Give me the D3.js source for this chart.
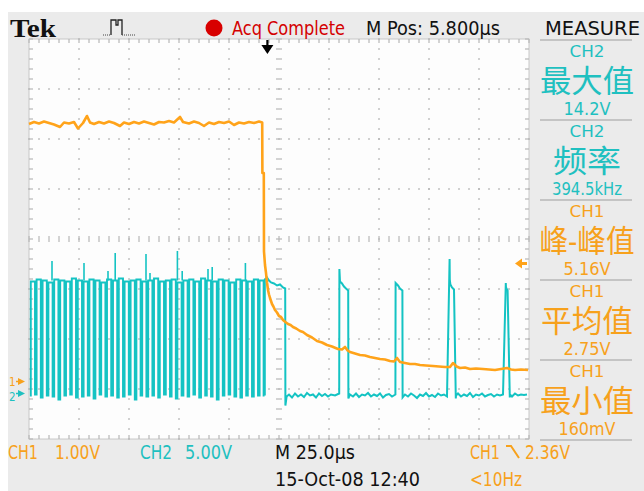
<!DOCTYPE html>
<html><head><meta charset="utf-8">
<script src="https://cdn.jsdelivr.net/npm/d3@7"></script>
<style>html,body{margin:0;padding:0;background:#fff;overflow:hidden}svg{display:block}</style>
</head><body><svg id="c" width="644" height="491"></svg>
<script>
// ---------------- DATA ----------------
const timeDomain = [0, 250];          // µs across screen (25 µs/div, 10 div)
const divDomain = [-4, 4];            // vertical divisions
const ch1VoltsPerDiv = 1.0;
const ch2VoltsPerDiv = 5.0;
const ch1OffsetDiv = -2.85;
const ch2OffsetDiv = -3.09;
const triggerTime = 119.2;            // µs  (M Pos 5.800 µs)
const triggerLevel = 2.36;            // V on CH1

// CH1 (orange) trace
const ch1Time = [0,2.5,5,7.5,10,12.5,15.5,17.5,20,22.5,24.5,27,29,30.5,32.5,35,37.5,40,42.5,45.5,47.5,50,52.5,55,57.5,60,62.5,65,67.5,70,72.5,75.5,77,80,82.5,85,87.5,90,92.5,95,97.5,100,102.5,105,107.5,110,112.5,115,116.6,
  116.7,117.4,117.5,118.0,118.5,119.0,119.5,120.0,120.5,121.5,122.2,123,124,125,126,127,128.2,129.5,130.8,132,133.6,135.5,137,139,141.5,144,146.5,149,151.5,154.5,156.5,158,159.3,160.5,163,165.5,168,170.5,173,175.5,178,180.5,182.5,184,185.5,188,190.5,193,195.5,198.5,202,205,208,210.5,212,213.8,215.5,218,220.5,223.5,227,230,233,236,239,241,243,246,249.5];
const ch1Volt = [5.15,5.19,5.16,5.20,5.17,5.14,5.09,5.18,5.16,5.19,5.06,5.17,5.31,5.18,5.15,5.19,5.16,5.20,5.17,5.11,5.18,5.15,5.19,5.16,5.20,5.17,5.14,5.19,5.18,5.21,5.18,5.29,5.19,5.16,5.20,5.17,5.11,5.18,5.15,5.19,5.17,5.20,5.13,5.18,5.16,5.19,5.17,5.20,5.18,
  4.17,4.17,2.60,2.33,2.17,1.98,1.83,1.74,1.67,1.55,1.50,1.43,1.38,1.31,1.29,1.23,1.19,1.15,1.13,1.09,1.06,1.01,0.99,0.93,0.88,0.81,0.78,0.73,0.70,0.65,0.64,0.69,0.62,0.59,0.56,0.53,0.52,0.49,0.47,0.45,0.44,0.41,0.40,0.47,0.39,0.37,0.35,0.35,0.33,0.32,0.31,0.30,0.29,0.29,0.37,0.30,0.27,0.28,0.25,0.26,0.25,0.24,0.23,0.25,0.27,0.24,0.23,0.24,0.23];

// CH2 (cyan) burst: rising / falling edge times, high and low levels
const trainRise = [0.9,3.8,6.8,9.7,12.6,15.6,18.5,21.4,24.4,27.3,30.2,33.2,36.1,39.0,42.0,44.9,47.8,50.8,53.7,56.6,59.6,62.5,65.4,68.4,71.3,74.2,77.2,80.1,83.0,86.0,88.9,91.8,94.8,97.7,100.6,103.6,106.5,109.4,112.4,115.3];
const trainFall = [3.0,5.9,8.9,11.8,14.7,17.7,20.6,23.5,26.5,29.4,32.3,35.3,38.2,41.1,44.1,47.0,49.9,52.9,55.8,58.7,61.7,64.6,67.5,70.5,73.4,76.3,79.3,82.2,85.1,88.1,91.0,93.9,96.9,99.8,102.7,105.7,108.6,111.5,114.5,117.3];
const trainHigh = [11.2,11.4,11.3,11.1,11.4,11.3,11.2,11.5,11.3,11.2,11.4,11.3,11.1,11.4,11.3,11.5,11.2,11.3,11.4,11.2,11.3,11.5,11.2,11.3,11.4,11.1,11.3,11.4,11.2,11.5,11.3,11.2,11.4,11.3,11.1,11.4,11.3,11.2,11.4,11.3];
const trainLow  = [-0.3,-0.1,-0.4,-0.2,-0.3,-0.6,-0.2,-0.1,-0.4,-0.3,-0.2,-0.5,-0.1,-0.3,-0.2,-0.4,-0.3,-0.1,-0.6,-0.2,-0.3,-0.2,-0.4,-0.1,-0.3,-0.5,-0.2,-0.3,-0.1,-0.4,-0.2,-0.3,-0.6,-0.2,-0.1,-0.3,-0.4,-0.2,-0.3,-0.2];
const spikeTime = [11.5,27.5,39.5,43.1,58.5,60.5,74.2,76.6,89.5,91.6,108.2];
const spikeVolt = [13.25,13.05,12.25,14.05,13.95,12.05,14.25,12.25,12.45,12.65,13.05];

// CH2 after the burst
const ch2TailTime = [117.9,117.9,119,120,121,122.5,124,125.5,127,128.1,128.2,128.8,130,131.5,133,134.5,136,137.5,139,140.5,142,143.5,145,146.5,148,149.5,151,153,155.1,
  155.2,155.5,156.5,157.5,158.5,159.6,159.7,160.5,162,163.5,165,166.5,168,169.5,171,172.5,174,175.5,177,178.5,180,181.5,183.2,
  183.3,184.5,185.5,186.7,186.8,188,189.5,191,192.5,194,195.5,197,198.5,200,201.5,203,204.5,206,207.5,209,210.3,
  210.4,210.7,211.5,212.5,213.4,213.5,214.5,216,217.5,219,220.5,222,223.5,225,226.5,228,229.5,231,232.5,234,235.5,237,238.4,
  238.5,239.3,240.4,240.5,241.5,243,244.5,246,247.5,249,250];
const ch2TailVolt = [-0.2,11.4,11.6,11.3,11.1,11.0,10.8,10.9,10.6,10.5,-1.2,-0.3,-0.1,-0.4,0.0,-0.3,-0.1,-0.35,0.05,-0.2,-0.1,-0.4,0.0,-0.25,-0.05,-0.3,-0.1,-0.2,0.0,
  12.45,11.2,11.0,10.7,10.5,10.3,-0.5,-0.1,-0.3,0.0,-0.35,-0.1,-0.2,0.05,-0.3,-0.1,-0.25,0.0,-0.4,-0.15,-0.05,-0.3,-0.1,
  11.05,10.8,10.5,10.3,-0.4,-0.1,-0.3,0.0,-0.2,-0.45,-0.1,-0.25,0.05,-0.3,-0.15,-0.35,0.0,-0.2,-0.1,-0.3,
  13.45,11.4,10.9,10.6,10.4,-0.5,-0.2,0.0,-0.3,-0.1,-0.25,0.05,-0.35,-0.1,-0.2,0.0,-0.3,-0.15,-0.05,-0.3,-0.1,-0.2,-0.1,
  11.05,10.6,10.3,-0.4,-0.1,-0.3,0.0,-0.2,-0.1,-0.15,-0.1];

// Texts
const headerTitle = "Tek";
const acqText = "Acq Complete";
const mPosText = "M Pos: 5.800\u00b5s";
const measureTitle = "MEASURE";
const measChannels = ["CH2","CH2","CH1","CH1","CH1"];
const measNames = ["最大值","频率","峰-峰值","平均值","最小值"];
const measValues = ["14.2V","394.5kHz","5.16V","2.75V","160mV"];
const measWidths = [94,68,95,92,94];
const measValueWidths = [47,70,47,47,57];
const bottomRow1 = ["CH1","1.00V","CH2","5.00V","M 25.0\u00b5s","CH1","2.36V"];
const bottomRow2 = ["15-Oct-08 12:40","<10Hz"];

// ---------------- DRAW ----------------
const ORANGE = "#ffa31a", ORANGE_T = "#f7a11c", CYAN = "#14c3c3", CYAN_T = "#1fc0c0", GRAY = "#ebebeb";
const FONT = "'DejaVu Sans Condensed','Liberation Sans Narrow','DejaVu Sans',sans-serif";
const CJK = "'DejaVu Sans Condensed','Noto Sans CJK SC',sans-serif";
const svg = d3.select("#c");

const x = d3.scaleLinear().domain(timeDomain).range([29, 529]);
const yDiv = d3.scaleLinear().domain(divDomain).range([439, 39]);
const y1 = v => yDiv(v / ch1VoltsPerDiv + ch1OffsetDiv);
const y2 = v => yDiv(v / ch2VoltsPerDiv + ch2OffsetDiv);

// backgrounds
svg.append("rect").attr("x", 8).attr("y", 12).attr("width", 636).attr("height", 479).attr("fill", GRAY);
svg.append("rect").attr("x", x(0)).attr("y", yDiv(4)).attr("width", x(250) - x(0)).attr("height", yDiv(-4) - yDiv(4))
  .attr("fill", "#fdfdfd").attr("stroke", "#c8c8c8").attr("stroke-width", 1);

// graticule
const grid = svg.append("g").attr("fill", "#b0b0b0");
const xDivTicks = d3.range(1, 10).filter(i => i !== 5).map(i => i * 25);
const yDivTicks = [-3, -2, -1, 1, 2, 3];
const minorT = d3.range(0, 250.01, 5);
const minorD = d3.range(-4, 4.001, 0.2);
xDivTicks.forEach(t => minorD.forEach(d => grid.append("rect").attr("x", x(t) - 0.75).attr("y", yDiv(d) - 0.75).attr("width", 1.5).attr("height", 1.5)));
yDivTicks.forEach(d => minorT.forEach(t => grid.append("rect").attr("x", x(t) - 0.75).attr("y", yDiv(d) - 0.75).attr("width", 1.5).attr("height", 1.5)));
const tk = svg.append("g").attr("stroke", "#b8b8b8").attr("stroke-width", 1.2);
minorT.forEach(t => {
  tk.append("line").attr("x1", x(t)).attr("x2", x(t)).attr("y1", yDiv(4)).attr("y2", yDiv(4) + 4);
  tk.append("line").attr("x1", x(t)).attr("x2", x(t)).attr("y1", yDiv(-4)).attr("y2", yDiv(-4) - 4);
  tk.append("line").attr("x1", x(t)).attr("x2", x(t)).attr("y1", yDiv(0) - 3).attr("y2", yDiv(0) + 3);
});
minorD.forEach(d => {
  tk.append("line").attr("x1", x(0)).attr("x2", x(0) + 4).attr("y1", yDiv(d)).attr("y2", yDiv(d));
  tk.append("line").attr("x1", x(250)).attr("x2", x(250) - 4).attr("y1", yDiv(d)).attr("y2", yDiv(d));
  tk.append("line").attr("x1", x(125) - 3).attr("x2", x(125) + 3).attr("y1", yDiv(d)).attr("y2", yDiv(d));
});

// CH2 trace
let pts2 = [];
trainRise.forEach((r, i) => {
  pts2.push([r, trainLow[i]], [r, trainHigh[i]], [trainFall[i], trainHigh[i]], [trainFall[i], trainLow[(i + 1) % trainLow.length]]);
});
const line2 = d3.line().x(d => x(d[0])).y(d => y2(d[1]));
const tr = svg.append("g").attr("fill", "none");
tr.append("path").attr("d", line2(pts2)).attr("stroke", CYAN).attr("stroke-width", 1.9);
tr.append("path").attr("d", line2(ch2TailTime.map((t, i) => [t, ch2TailVolt[i]]))).attr("stroke", CYAN).attr("stroke-width", 2);
spikeTime.forEach((t, i) => tr.append("line").attr("x1", x(t)).attr("x2", x(t)).attr("y1", y2(11.3)).attr("y2", y2(spikeVolt[i])).attr("stroke", CYAN).attr("stroke-width", 1.6));

// CH1 trace
const line1 = d3.line().x(d => x(d[0])).y(d => y1(d[1]));
tr.append("path").attr("d", line1(ch1Time.map((t, i) => [t, ch1Volt[i]]))).attr("stroke", ORANGE).attr("stroke-width", 2.6).attr("stroke-linejoin", "round");

// trigger position arrow (top)
const tx = x(triggerTime);
svg.append("line").attr("x1", tx).attr("x2", tx).attr("y1", 40).attr("y2", 50).attr("stroke", "#000").attr("stroke-width", 2.2);
svg.append("path").attr("d", `M${tx - 6},45 L${tx + 6},45 L${tx},54 Z`).attr("fill", "#000");

// trigger level marker (right)
const tl = y1(triggerLevel);
svg.append("path").attr("d", `M${x(250) - 14},${tl} L${x(250) - 7},${tl - 5} L${x(250) - 7},${tl + 5} Z`).attr("fill", ORANGE);
svg.append("rect").attr("x", x(250) - 8).attr("y", tl - 1.5).attr("width", 6).attr("height", 3).attr("fill", ORANGE);

// ground markers (left)
function gnd(label, yy, by, col) {
  svg.append("text").attr("x", 9).attr("y", by).text(label).attr("fill", col).style("font-family", FONT).style("font-size", "11.5px");
  svg.append("path").attr("d", `M${18},${yy - 3.5} L${25},${yy} L${18},${yy + 3.5} Z`).attr("fill", col);
  svg.append("line").attr("x1", 16).attr("x2", 21).attr("y1", yy).attr("y2", yy).attr("stroke", col).attr("stroke-width", 1.5);
}
gnd("1", y1(0), 386, ORANGE_T);
gnd("2", y2(0), 400.5, CYAN_T);

// text helper
function txt(xx, yy, s, col, size, w, anchor, fam, weight) {
  const t = svg.append("text").attr("x", xx).attr("y", yy).text(s).attr("fill", col)
    .style("font-family", fam || FONT).style("font-size", size + "px").attr("text-anchor", anchor || "start");
  if (weight) t.style("font-weight", weight);
  if (w) t.attr("textLength", w).attr("lengthAdjust", "spacingAndGlyphs");
  return t;
}

// header
txt(10, 37, headerTitle, "#111", 26, 46, "start", "'Liberation Serif','DejaVu Serif',serif", "bold");
svg.append("path").attr("d", "M111,35 V20 H116 V25 H118 V20 H122 V35").attr("fill", "none").attr("stroke", "#222").attr("stroke-width", 1.3);
svg.append("line").attr("x1", 103).attr("x2", 111).attr("y1", 35).attr("y2", 35).attr("stroke", "#444").attr("stroke-dasharray", "1,1");
svg.append("line").attr("x1", 122).attr("x2", 135).attr("y1", 35).attr("y2", 35).attr("stroke", "#444").attr("stroke-dasharray", "1,1");
svg.append("circle").attr("cx", 214).attr("cy", 28).attr("r", 8.5).attr("fill", "#d80000");
txt(232, 35, acqText, "#d40000", 19, 113);
txt(366, 35, mPosText, "#111", 19, 134);
txt(545, 35, measureTitle, "#111", 19, 95);

// measurement panel
const blockTop = [40, 120, 200, 280, 360];
svg.append("line").attr("x1", 540).attr("x2", 632).attr("y1", 40).attr("y2", 40).attr("stroke", "#c4c4c4").attr("stroke-width", 2);
blockTop.forEach((T, i) => {
  const col = measChannels[i] === "CH1" ? ORANGE_T : CYAN_T;
  txt(587, T + 17, measChannels[i], col, 16, 35, "middle");
  txt(587, T + 52, measNames[i], col, 31, measWidths[i], "middle", CJK);
  txt(587, T + 75, measValues[i], col, 18, measValueWidths[i], "middle");
  svg.append("line").attr("x1", 540).attr("x2", 632).attr("y1", T + 80).attr("y2", T + 80).attr("stroke", "#c4c4c4").attr("stroke-width", 2);
});

// bottom rows
txt(8, 459, bottomRow1[0], ORANGE_T, 19, 30);
txt(55, 459, bottomRow1[1], ORANGE_T, 19, 45);
txt(140, 459, bottomRow1[2], CYAN_T, 19, 32);
txt(185, 459, bottomRow1[3], CYAN_T, 19, 47);
txt(275, 459, bottomRow1[4], "#111", 19, 80);
txt(470, 459, bottomRow1[5], ORANGE_T, 19, 30);
svg.append("path").attr("d", "M506,446 H511 L519,458").attr("fill", "none").attr("stroke", ORANGE_T).attr("stroke-width", 2);
txt(525, 459, bottomRow1[6], ORANGE_T, 19, 45);
txt(275, 486, bottomRow2[0], "#111", 19, 145);
txt(470, 486, bottomRow2[1], ORANGE_T, 19, 52);
</script></body></html>
